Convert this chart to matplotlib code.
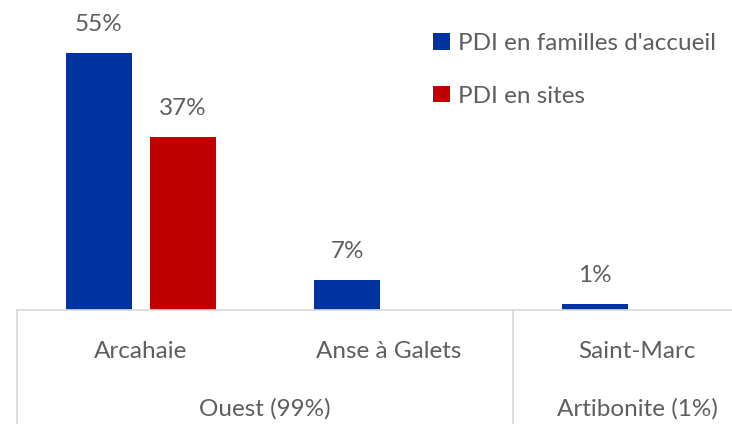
import matplotlib
matplotlib.use('Agg')
import matplotlib.pyplot as plt
import matplotlib.transforms as mtransforms

# data
communes = ['Arcahaie', 'Anse à Galets', 'Saint-Marc']
departements = ['Ouest (99%)', 'Artibonite (1%)']
dept_span = [(0, 1), (2, 2)]
familles = [55.2, 6.5, 1.3]
familles_lbl = ['55%', '7%', '1%']
sites = [37.1, None, None]
sites_lbl = ['37%']
series_names = ["PDI en familles d'accueil", 'PDI en sites']

blue = '#0033A0'
red = '#C00000'
grey_txt = '#5E5E5E'
line_col = '#D9D9D9'
fs = 17.5

plt.rcParams['font.family'] = ['Lato', 'DejaVu Sans']
plt.rcParams['font.weight'] = 'normal'

fig = plt.figure(figsize=(7.32, 4.24), dpi=100)
W, H = 732, 424
x0, base = 17, 310
ax = fig.add_axes([x0 / W, 1 - base / H, (W - x0) / W, base / H])

cat_w = 248.0
ax.set_xlim(-0.5, -0.5 + (W - x0) / cat_w)
ax.set_ylim(0, 55.2 * base / 257)

bw = 66 / cat_w
off = 42 / cat_w
xs = list(range(len(communes)))
b1 = ax.bar([x - off for x in xs], familles, width=bw, color=blue, label=series_names[0])
sx = [x + off for x, v in zip(xs, sites) if v is not None]
sv = [v for v in sites if v is not None]
b2 = ax.bar(sx, sv, width=bw, color=red, label=series_names[1])

ax.bar_label(b1, labels=familles_lbl, padding=13, fontsize=fs, color=grey_txt)
ax.bar_label(b2, labels=sites_lbl, padding=13, fontsize=fs, color=grey_txt)

for s in ['top', 'right', 'left']:
    ax.spines[s].set_visible(False)
ax.spines['bottom'].set_color(line_col)
ax.spines['bottom'].set_linewidth(1.2)
ax.set_xticks([])
ax.set_yticks([])

trans = mtransforms.blended_transform_factory(ax.transData, ax.transAxes)
for xv in [-0.5, 1.5]:
    ax.plot([xv, xv], [0, -0.4], transform=trans, color=line_col, lw=1.2, clip_on=False)

for x, name in zip(xs, communes):
    ax.text(x, -41 / base, name, transform=trans, ha='center', va='center',
            fontsize=fs, color=grey_txt)
for (a, b), name in zip(dept_span, departements):
    xc = (a + b) / 2 if a != b else a
    ax.text(xc, -99 / base, name, transform=trans, ha='center', va='center',
            fontsize=fs, color=grey_txt)

leg = fig.legend(loc='upper left', bbox_to_anchor=(433 / W, 1 - 33 / H), frameon=False,
                 fontsize=fs, labelcolor=grey_txt, handlelength=0.68, handleheight=0.68,
                 handletextpad=0.35, labelspacing=1.3, borderpad=0, borderaxespad=0)

fig.savefig('out.png', dpi=100)
